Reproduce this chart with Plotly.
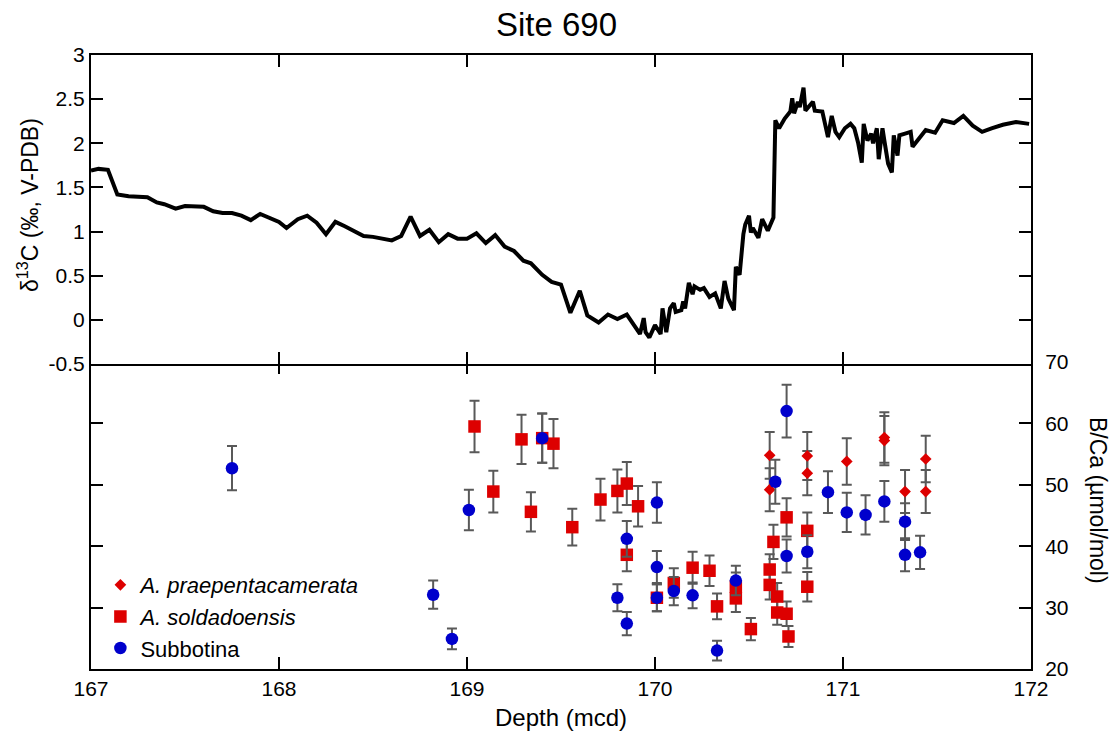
import plotly.graph_objects as go

# ---- carbon isotope record (upper panel) ----
c13_depth = [
    167.00, 167.04, 167.09, 167.14, 167.20, 167.30, 167.35, 167.39, 167.45, 167.50,
    167.60, 167.65, 167.70, 167.75, 167.80, 167.85, 167.90, 167.94, 168.00, 168.04,
    168.10, 168.15, 168.20, 168.25, 168.30, 168.35, 168.40, 168.45, 168.50, 168.55,
    168.60, 168.65, 168.70, 168.75, 168.80, 168.85, 168.90, 168.95, 169.00, 169.05,
    169.10, 169.15, 169.20, 169.25, 169.30, 169.34, 169.40, 169.45, 169.50, 169.55,
    169.60, 169.64, 169.70, 169.75, 169.80, 169.85, 169.92, 169.94, 169.95, 169.97,
    170.00, 170.03, 170.04, 170.06, 170.08, 170.10, 170.11, 170.14, 170.15, 170.16,
    170.18, 170.20, 170.21, 170.24, 170.26, 170.29, 170.32, 170.35, 170.37, 170.39,
    170.42, 170.43, 170.45, 170.47, 170.48, 170.50, 170.51, 170.52, 170.55, 170.57,
    170.60, 170.63, 170.64, 170.66, 170.69, 170.72, 170.73, 170.74, 170.76, 170.77,
    170.79, 170.80, 170.84, 170.85, 170.89, 170.92, 170.94, 170.96, 170.98, 171.01,
    171.04, 171.06, 171.08, 171.10, 171.11, 171.13, 171.15, 171.16, 171.18, 171.19,
    171.21, 171.22, 171.24, 171.26, 171.27, 171.29, 171.30, 171.33, 171.36, 171.37,
    171.44, 171.49, 171.53, 171.59, 171.64, 171.69, 171.74, 171.79, 171.85, 171.92,
    171.99,
]
c13_value = [
    1.69, 1.71, 1.70, 1.42, 1.40, 1.39, 1.33, 1.31, 1.26, 1.29,
    1.28, 1.23, 1.21, 1.21, 1.18, 1.13, 1.20, 1.16, 1.11, 1.04,
    1.14, 1.18, 1.10, 0.97, 1.11, 1.06, 1.00, 0.95, 0.94, 0.92,
    0.90, 0.95, 1.17, 0.95, 1.02, 0.88, 0.97, 0.92, 0.92, 0.98,
    0.87, 0.96, 0.83, 0.78, 0.67, 0.64, 0.51, 0.43, 0.40, 0.08,
    0.33, 0.05, -0.03, 0.06, 0.01, 0.06, -0.16, 0.02, -0.14, -0.20,
    -0.06, -0.16, 0.13, -0.14, 0.13, 0.19, 0.09, 0.11, 0.21, 0.13,
    0.42, 0.29, 0.38, 0.34, 0.36, 0.26, 0.30, 0.13, 0.44, 0.24,
    0.11, 0.60, 0.51, 0.97, 1.08, 1.18, 0.99, 1.04, 0.93, 1.14,
    1.01, 1.16, 2.26, 2.17, 2.28, 2.36, 2.51, 2.34, 2.47, 2.41,
    2.63, 2.37, 2.47, 2.37, 2.36, 2.07, 2.31, 2.13, 2.07, 2.17,
    2.22, 2.17, 2.01, 1.78, 2.22, 2.03, 2.11, 2.00, 2.17, 1.82,
    2.17, 2.03, 1.77, 1.67, 2.09, 1.86, 2.09, 2.11, 2.13, 1.96,
    2.15, 2.12, 2.26, 2.23, 2.31, 2.20, 2.13, 2.17, 2.21, 2.24,
    2.22,
]

# ---- B/Ca (lower panel) ----
praep_depth = [170.61, 170.61, 170.81, 170.81, 171.02, 171.22, 171.22, 171.33, 171.44, 171.44]
praep_bca = [54.8, 49.2, 54.7, 51.9, 53.8, 57.7, 57.2, 48.9, 54.2, 48.9]
praep_err = [3.8, 3.5, 3.9, 3.6, 3.8, 4.1, 4.0, 3.5, 3.8, 3.5]

sold_depth = [
    169.04, 169.14, 169.29, 169.34, 169.40, 169.46, 169.56, 169.71, 169.80, 169.85,
    169.85, 169.91, 170.01, 170.10, 170.20, 170.29, 170.33, 170.43, 170.43, 170.51,
    170.61, 170.61, 170.63, 170.65, 170.65, 170.70, 170.70, 170.71, 170.81, 170.81,
]
sold_bca = [
    59.5, 48.9, 57.4, 45.6, 57.6, 56.7, 43.1, 47.6, 49.0, 50.2,
    38.6, 46.5, 31.6, 34.0, 36.5, 36.0, 30.2, 33.4, 31.5, 26.5,
    36.2, 33.7, 40.7, 31.8, 29.2, 44.7, 29.0, 25.3, 42.5, 33.4,
]
sold_err = [
    4.2, 3.4, 4.0, 3.2, 4.0, 4.0, 3.0, 3.4, 3.5, 3.5,
    2.7, 3.3, 2.2, 2.4, 2.6, 2.5, 2.1, 2.3, 2.2, 1.8,
    2.5, 2.4, 2.8, 2.2, 2.0, 3.1, 2.0, 1.7, 3.0, 2.4,
]

subb_depth = [
    167.75, 168.82, 168.92, 169.01, 169.40, 169.80, 169.85, 169.85, 170.01, 170.01,
    170.01, 170.10, 170.20, 170.33, 170.43, 170.64, 170.70, 170.70, 170.81, 170.92,
    171.02, 171.12, 171.22, 171.33, 171.33, 171.41,
]
subb_bca = [
    52.7, 32.1, 24.9, 45.9, 57.6, 31.6, 41.2, 27.4, 47.1, 36.6,
    31.6, 32.7, 32.0, 23.0, 34.4, 50.5, 62.0, 38.4, 39.1, 48.8,
    45.5, 45.1, 47.3, 44.0, 38.6, 39.0,
]
subb_err = [
    3.6, 2.3, 1.7, 3.3, 4.0, 2.2, 2.9, 1.9, 3.3, 2.6,
    2.2, 2.3, 2.1, 1.6, 2.4, 3.6, 4.3, 2.7, 2.7, 3.4,
    3.2, 3.2, 3.3, 3.0, 2.7, 2.7,
]

x_ticks = [167, 168, 169, 170, 171, 172]
c13_ticks = [-0.5, 0, 0.5, 1, 1.5, 2, 2.5, 3]
c13_ticktext = ["-0.5", "0", "0.5", "1", "1.5", "2", "2.5", "3"]
bca_ticks = [20, 30, 40, 50, 60, 70]

FONT = "Liberation Sans, Arial, sans-serif"
RED = "#DD0000"
BLUE = "#0000CC"
ERR = "#595959"

W, H = 1113, 738
M_L, M_R, M_T, M_B = 91, 82, 55, 69
PLOT_H = H - M_T - M_B
# axis lines sit outside their domain by half their width; pull the upper
# panel down so its bottom frame line shares the lower panel's top line
SPLIT = 0.5
UPPER_SHIFT = 2 / PLOT_H

fig = go.Figure()

fig.add_trace(go.Scatter(
    x=c13_depth, y=c13_value, mode="lines",
    line=dict(color="black", width=4),
    xaxis="x2", yaxis="y", showlegend=False, hoverinfo="skip",
))

err_style = dict(type="data", color=ERR, thickness=2, width=5)

fig.add_trace(go.Scatter(
    x=praep_depth, y=praep_bca, mode="markers",
    name="<i>A. praepentacamerata</i>",
    marker=dict(symbol="diamond", size=9, color=RED),
    error_y=dict(array=praep_err, **err_style),
    xaxis="x", yaxis="y2",
))
fig.add_trace(go.Scatter(
    x=sold_depth, y=sold_bca, mode="markers",
    name="<i>A. soldadoensis</i>",
    marker=dict(symbol="square", size=12.5, color=RED),
    error_y=dict(array=sold_err, **err_style),
    xaxis="x", yaxis="y2",
))
fig.add_trace(go.Scatter(
    x=subb_depth, y=subb_bca, mode="markers",
    name="Subbotina",
    marker=dict(symbol="circle", size=12.5, color=BLUE),
    error_y=dict(array=subb_err, **err_style),
    xaxis="x", yaxis="y2",
))

axis_common = dict(
    showline=True, linecolor="black", linewidth=2,
    ticks="inside", ticklen=12, tickwidth=2, tickcolor="black",
    mirror="ticks", showgrid=False, zeroline=False,
    tickfont=dict(family=FONT, size=21, color="black"),
)


def py(px):
    """Paper y coordinate for a pixel row measured from the top of the page."""
    return (H - M_B - px) / PLOT_H


def px_x(px):
    """Paper x coordinate for a pixel column measured from the left of the page."""
    return (px - M_L) / (W - M_L - M_R)


fig.update_layout(
    width=W, height=H,
    paper_bgcolor="white", plot_bgcolor="white",
    margin=dict(l=M_L, r=M_R, t=M_T, b=M_B),
    font=dict(family=FONT, color="black"),
    title=dict(
        text="Site 690", x=0.5, xanchor="center", y=1 - 24 / H, yanchor="middle",
        font=dict(family=FONT, size=33, color="black"),
    ),
    xaxis=dict(
        domain=[0, 1], anchor="y2", range=[167, 172],
        tickvals=x_ticks, **axis_common,
    ),
    xaxis2=dict(
        domain=[0, 1], anchor="y", range=[167, 172], matches="x",
        tickvals=x_ticks, showticklabels=False, **axis_common,
    ),
    yaxis=dict(
        domain=[SPLIT - UPPER_SHIFT, 1], anchor="x2", range=[-0.5, 3], side="left",
        tickvals=c13_ticks, ticktext=c13_ticktext, **axis_common,
    ),
    yaxis2=dict(
        domain=[0, SPLIT], anchor="x", range=[20, 70], side="right",
        tickvals=bca_ticks, ticklabelstandoff=8, **axis_common,
    ),
    legend=dict(
        x=0.01, y=py(564), xanchor="left", yanchor="top",
        bgcolor="rgba(0,0,0,0)", borderwidth=0,
        font=dict(family=FONT, size=22, color="black"),
        itemwidth=30, tracegroupgap=0,
    ),
    annotations=[
        dict(
            text="Depth (mcd)", xref="paper", yref="paper",
            x=0.5, y=py(717), xanchor="center", yanchor="middle",
            showarrow=False, font=dict(family=FONT, size=24, color="black"),
        ),
        dict(
            text="\u03b4<sup>13</sup>C (\u2030, V-PDB)", xref="paper", yref="paper",
            x=px_x(28), y=py(205), xanchor="center", yanchor="middle",
            textangle=-90, showarrow=False,
            font=dict(family=FONT, size=23, color="black"),
        ),
        dict(
            text="B/Ca (\u00b5mol/mol)", xref="paper", yref="paper",
            x=px_x(1098), y=py(500), xanchor="center", yanchor="middle",
            textangle=90, showarrow=False,
            font=dict(family=FONT, size=23, color="black"),
        ),
    ],
)

fig.write_html("out.html")
